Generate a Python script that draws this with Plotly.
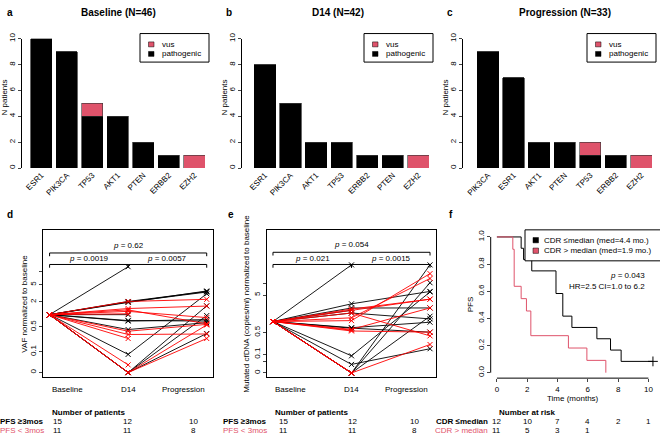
import numpy as np
import plotly.graph_objects as go

W, H = 660, 436
FONT = "Liberation Sans, Arial, sans-serif"
BLACK = "#000000"
RED = "#FF0000"
PINK = "#DF536B"

# a-c: patients with a mutation per gene (pathogenic / variant of unknown significance)
genes_base = ["ESR1", "PIK3CA", "TP53", "AKT1", "PTEN", "ERBB2", "EZH2"]
path_base = [10, 9, 4, 4, 2, 1, 0]
vus_base = [0, 0, 1, 0, 0, 0, 1]

genes_d14 = ["ESR1", "PIK3CA", "AKT1", "TP53", "ERBB2", "PTEN", "EZH2"]
path_d14 = [8, 5, 2, 2, 1, 1, 0]
vus_d14 = [0, 0, 0, 0, 0, 0, 1]

genes_prog = ["PIK3CA", "ESR1", "AKT1", "PTEN", "TP53", "ERBB2", "EZH2"]
path_prog = [9, 7, 2, 2, 1, 1, 0]
vus_prog = [0, 0, 0, 0, 1, 0, 1]

titles = ["Baseline (N=46)", "D14 (N=42)", "Progression (N=33)"]

# d: VAF normalized to baseline (baseline = 1), None = no sample
vaf_long_d14 = [13, 2.05, 1.95, 2.0, 0.72, 0.7, 0.43, 0.08, 0, 0, 0, 1.0, None, None, None]
vaf_long_prog = [None, 3.5, 3.6, 3.4, 0.7, 0.76, 0.64, 3.1, 1.62, 0.95, 0.34, None, None, None, None]
vaf_short_d14 = [2.05, 1.4, 1.3, 1.2, 1.05, 0.39, 0.32, 0.25, 0.025, 0, 0]
vaf_short_prog = [2.3, 1.6, 0.6, 0.85, None, 0.58, 0.33, None, None, 0.56, 0.25]

# e: mutated cfDNA (copies/ml) normalized to baseline
cf_long_d14 = [30, 2.95, 2.29, 1.69, 0.68, 0.66, 0.088, 0.033, 0, 0, 0, 2.0, None, None, None]
cf_long_prog = [None, 6.2, 2.3, 1.18, 0.96, 0.51, 6.0, 0.16, 30, 10.4, 1.39, None, None, None, None]
cf_short_d14 = [1.06, 1.26, 2.15, 1.99, 1.69, 0.61, 0.55, 0, 0.58, 0, 0]
cf_short_prog = [17.9, 13.4, 3.9, 3.9, 0.4, 2.3, 0.51, 0.22, None, None, None]

timepoints = ["Baseline", "D14", "Progression"]
n_long = [15, 12, 10]
n_short = [11, 11, 8]

# f: PFS by cfDNA decline ratio (event times in months)
km_low_events = [1.6, 1.76, 2.3, 3.9, 3.9, 4.35, 4.35, 4.95, 6.6, 7.5, 8.2]
km_low_censor = [10.3]
km_high_events = [1.05, 1.14, 1.14, 1.14, 1.6, 1.95, 2.24, 2.24, 4.72, 5.94, 7.19]
risk_times = [0, 2, 4, 6, 8, 10]
risk_low = [12, 10, 7, 4, 2, 1]
risk_high = [11, 5, 3, 1]


def tr(v):
    return None if v is None else float(np.log2(v + 0.05))


def px(x):
    return x / W


def py(y):
    return 1 - y / H


def km_steps(events, censor):
    times = sorted(set(events + censor))
    n = len(events) + len(censor)
    s = 1.0
    xs, ys = [0], [1.0]
    for t in times:
        d = events.count(t)
        if d:
            s *= 1 - d / n
            xs.append(t)
            ys.append(s)
        n -= d + censor.count(t)
    if censor:
        xs.append(max(censor))
        ys.append(s)
    return xs, ys, s


def patient_paths(d14, prog):
    xs, ys = [], []
    for a, b in zip(d14, prog):
        xs.append(1)
        ys.append(tr(1))
        if a is not None:
            xs.append(2)
            ys.append(tr(a))
        if b is not None:
            xs.append(3)
            ys.append(tr(b))
        xs.append(None)
        ys.append(None)
    return xs, ys


fig = go.Figure()
shapes = []
ann = []


def text(x, y, s, size=8, bold=False, color=BLACK, anchor="center", angle=0, xref="paper"):
    if bold:
        s = "<b>%s</b>" % s
    ann.append(dict(x=px(x) if xref == "paper" else x, y=py(y), xref=xref, yref="paper", text=s,
                    showarrow=False, xanchor=anchor, yanchor="middle",
                    textangle=angle, font=dict(family=FONT, size=size, color=color)))


axes = {}
TICKFONT = dict(family=FONT, size=8, color=BLACK)

# ---- a, b, c: bar charts
bar_panels = [
    (genes_base, path_base, vus_base, 22, 30.7, 205, "a", 5, 118),
    (genes_d14, path_d14, vus_d14, 242, 254.3, 429, "b", 224, 338),
    (genes_prog, path_prog, vus_prog, 463, 477.3, 652, "c", 445, 565),
]
for i, (genes, path, vus, ax_px, left, right, letter, lx, tx) in enumerate(bar_panels):
    k = "" if i == 0 else str(i + 1)
    unit = (right - left) / (6 + 5 / 6)
    fig.add_trace(go.Bar(x=genes, y=path, xaxis="x" + k, yaxis="y" + k,
                         marker=dict(color=BLACK, line=dict(color=BLACK, width=0.6))))
    fig.add_trace(go.Bar(x=genes, y=vus, xaxis="x" + k, yaxis="y" + k,
                         marker=dict(color=PINK, line=dict(color="#333333", width=0.6))))
    axes["xaxis" + k] = dict(domain=[px(ax_px), px(right)], anchor="y" + k,
                             range=[-5 / 12 - (left - ax_px) / unit, 6 + 5 / 12],
                             tickangle=-45, ticks="", showline=False, tickfont=TICKFONT)
    axes["yaxis" + k] = dict(domain=[py(164.7), py(33.3)], anchor="x" + k, range=[0, 10],
                             tickvals=[0, 2, 4, 6, 8, 10], ticks="outside", ticklen=3,
                             showline=True, linecolor=BLACK, linewidth=1, tickangle=-90,
                             showgrid=False, zeroline=False, tickfont=TICKFONT)
    text(lx, 7, letter, size=10, bold=True, anchor="left")
    text(tx, 7, titles[i], size=10, bold=True)
    text(ax_px - 17, 93, "N patients", angle=-90)
    # legend box
    bx = right - 65
    shapes.append(dict(type="rect", xref="paper", yref="paper", x0=px(bx), x1=px(right + 4),
                       y0=py(57), y1=py(28), line=dict(color=BLACK, width=1), fillcolor="white"))
    for yy, c in [(39, PINK), (48.7, BLACK)]:
        shapes.append(dict(type="rect", xref="paper", yref="paper", x0=px(bx + 8.5), x1=px(bx + 14),
                           y0=py(yy + 2.5), y1=py(yy - 2.5), line=dict(color=BLACK, width=0.5),
                           fillcolor=c))
    text(bx + 20, 39, "vus", anchor="left")
    text(bx + 20, 48.7, "pathogenic", anchor="left")

# ---- d, e: paired lines
line_panels = [
    (vaf_long_d14, vaf_long_prog, vaf_short_d14, vaf_short_prog, 43.3, 213, 13.4, 313.7,
     [0, 0.1, 0.5, 2, 5, 10], ["0", "0.1", "0.5", "2", "5", ""],
     "VAF normalized to baseline", 25, "d", ["0.0019", "0.0057", "0.62"], (251, 262.7)),
    (cf_long_d14, cf_long_prog, cf_short_d14, cf_short_prog, 266.7, 436.3, 11.9, 320.7,
     [0, 0.05, 0.1, 0.5, 5, 10], ["0", "", "0.1", "0.5", "5", ""],
     "Mutated cfDNA (copies/ml) normalized to baseline", 247, "e", ["0.021", "0.0015", "0.054"],
     (250.3, 262.7)),
]
for j, (ld, lp, sd, sp, x0, x1, scale, base_px, tv, tt, ylab, ylx, letter, pv, br) in enumerate(line_panels):
    k = str(4 + j)
    for d14, prog, col in [(ld, lp, BLACK), (sd, sp, RED)]:
        xs, ys = patient_paths(d14, prog)
        fig.add_trace(go.Scatter(x=xs, y=ys, xaxis="x" + k, yaxis="y" + k, mode="lines+markers",
                                 line=dict(color=col, width=0.9),
                                 marker=dict(symbol="x-thin", size=5, color=col,
                                             line=dict(color=col, width=1))))
    unit = (x1 - x0) / 2.16
    axes["xaxis" + k] = dict(domain=[px(x0), px(x1)], anchor="y" + k, range=[0.92, 3.08],
                             showticklabels=False, ticks="", showgrid=False, zeroline=False,
                             showline=True, mirror=True, linecolor=BLACK, linewidth=1)
    axes["yaxis" + k] = dict(domain=[py(377), py(228)], anchor="x" + k,
                             range=[tr(1) - (377 - base_px) / scale, tr(1) + (base_px - 228) / scale],
                             tickvals=[tr(v) for v in tv], ticktext=tt, ticks="outside", ticklen=3,
                             tickangle=-90, showgrid=False, zeroline=False,
                             showline=True, mirror=True, linecolor=BLACK, linewidth=1,
                             tickfont=TICKFONT)
    xb, xd, xp = x0 + 0.08 * unit, x0 + 1.08 * unit, x0 + 2.08 * unit
    # significance brackets
    up, lo = br
    for a, b, yy in [(xb, xd, lo), (xd, xp, lo), (xb, xp, up)]:
        shapes.append(dict(type="path", xref="paper", yref="paper",
                           path="M %f %f L %f %f L %f %f L %f %f" % (px(a), py(yy + 3.3), px(a), py(yy),
                                                                     px(b), py(yy), px(b), py(yy + 3.3)),
                           line=dict(color=BLACK, width=1)))
    text((xb + xd) / 2, lo - 6.5, "<i>p</i> = " + pv[0])
    text((xd + xp) / 2, lo - 6.5, "<i>p</i> = " + pv[1])
    text(xd, up - 7.5, "<i>p</i> = " + pv[2])
    text(ylx, 302.5, ylab, angle=-90)
    text(5 + 221 * j, 212, letter, size=10, bold=True, anchor="left")
    text(xb, 390, timepoints[0], anchor="left")
    text(xd, 390, timepoints[1])
    text(xp, 390, timepoints[2], anchor="right")
    # number of patients table
    text(xb + 0.5, 413.3, "Number of patients", bold=True, anchor="left")
    text(xb - 4, 422.7, "PFS ≥3mos", bold=True, anchor="right")
    text(xb - 4, 431.7, "PFS &lt; 3mos", color=PINK, anchor="right")
    cols = [xb + 7.5, xd - 0.5, xp - 13] if j == 0 else [xb + 10.5, xd + 0.5, xp - 16]
    for cx, a, b in zip(cols, n_long, n_short):
        text(cx, 422.7, str(a))
        text(cx, 431.7, str(b))

# ---- f: Kaplan-Meier
lx, ly, ls = km_steps(km_low_events, km_low_censor)
hx, hy, hs = km_steps(km_high_events, [])
fig.add_trace(go.Scatter(x=lx, y=ly, xaxis="x6", yaxis="y6", mode="lines", line_shape="hv",
                         line=dict(color=BLACK, width=1)))
fig.add_trace(go.Scatter(x=hx, y=hy, xaxis="x6", yaxis="y6", mode="lines", line_shape="hv",
                         line=dict(color=PINK, width=1)))
fig.add_trace(go.Scatter(x=km_low_censor, y=[ls], xaxis="x6", yaxis="y6", mode="markers",
                         marker=dict(symbol="cross-thin", size=7, line=dict(color=BLACK, width=1))))
axes["xaxis6"] = dict(domain=[px(490.7), px(659)], anchor="y6", range=[-0.41, 10.7],
                      tickvals=[0, 2, 4, 6, 8, 10], ticks="outside", ticklen=3, showline=False,
                      showgrid=False, zeroline=False, tickfont=TICKFONT)
axes["yaxis6"] = dict(domain=[py(378.2), py(229.2)], anchor="x6", range=[-0.04, 1.04],
                      tickvals=[0, 0.2, 0.4, 0.6, 0.8, 1.0],
                      ticktext=["0.0", "0.2", "0.4", "0.6", "0.8", "1.0"], ticks="outside", ticklen=3,
                      tickangle=-90, showline=False, showgrid=False, zeroline=False,
                      tickfont=TICKFONT)
shapes.append(dict(type="line", xref="x6", yref="y6 domain", x0=0, x1=10, y0=0, y1=0,
                   line=dict(color=BLACK, width=1)))
shapes.append(dict(type="line", xref="x6 domain", yref="y6", x0=0, x1=0, y0=0, y1=1,
                   line=dict(color=BLACK, width=1)))
shapes.append(dict(type="rect", xref="paper", yref="paper", x0=px(525), x1=px(662),
                   y0=py(259), y1=py(227.5), line=dict(color=BLACK, width=1), fillcolor="white"))
for yy, c in [(238, BLACK), (248.7, PINK)]:
    shapes.append(dict(type="rect", xref="paper", yref="paper", x0=px(533), x1=px(538.5),
                       y0=py(yy + 2.7), y1=py(yy - 2.7), line=dict(color=BLACK, width=0.5), fillcolor=c))
text(541.7, 238, "CDR ≤median (med=4.4 mo.)", anchor="left")
text(541.7, 248.7, "CDR &gt; median (med=1.9 mo.)", anchor="left")
text(647, 273.7, "<i>p</i> = 0.043", anchor="right")
text(647, 284.7, "HR=2.5 CI=1.0 to 6.2", anchor="right")
text(470.5, 303.7, "PFS", angle=-90)
text(447, 212, "f", size=10, bold=True, anchor="left")
text(572.5, 399, "Time (months)")
text(496.7, 413.3, "Number at risk", bold=True, anchor="left")
text(490, 422.7, "CDR ≤median", bold=True, anchor="right")
text(490, 431.7, "CDR &gt; median", color=PINK, anchor="right")
for t, n in zip(risk_times, risk_low):
    text(t, 422.7, str(n), xref="x6")
for t, n in zip(risk_times, risk_high):
    text(t, 431.7, str(n), xref="x6")

fig.update_layout(width=W, height=H, margin=dict(l=0, r=0, t=0, b=0),
                  paper_bgcolor="white", plot_bgcolor="white", showlegend=False,
                  barmode="stack", bargap=1 / 6, font=dict(family=FONT, size=8, color=BLACK),
                  shapes=shapes, annotations=ann, **axes)
# the page body has a default margin; drop it so the figure sits at the window's corner
fig.write_html("out.html", config={"displayModeBar": False},
               post_script="document.body.style.margin = '0';")
